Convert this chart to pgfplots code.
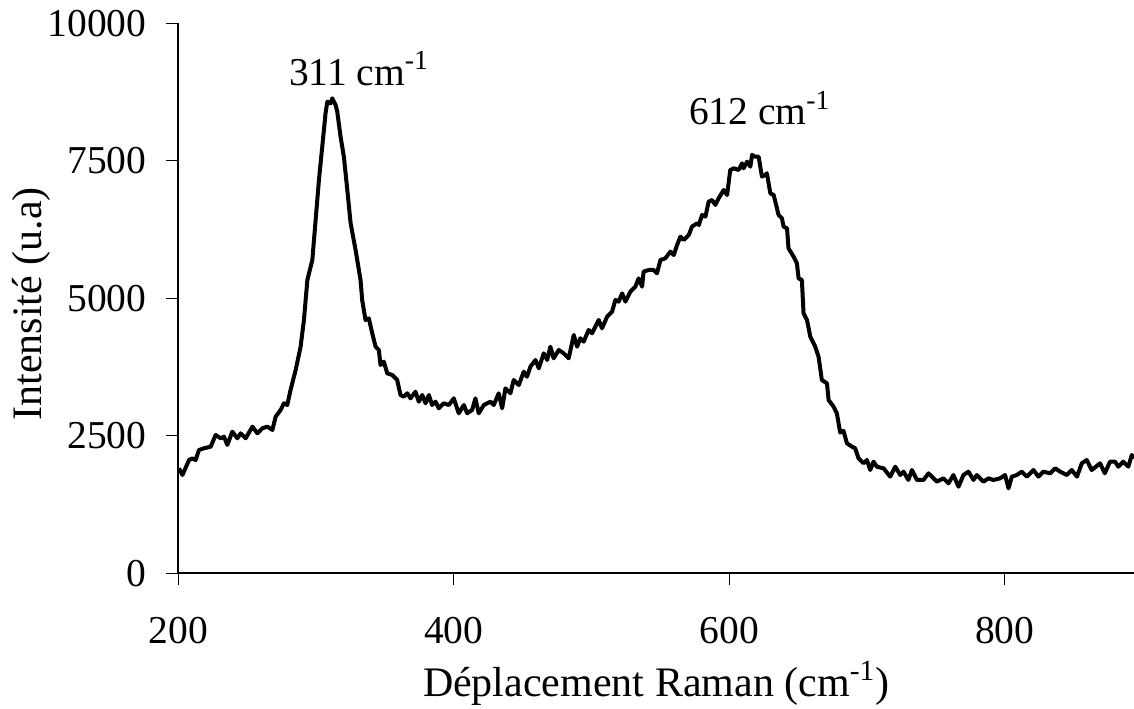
\documentclass[border=0pt]{standalone}
\usepackage{pgfplots}
\pgfplotsset{compat=1.18}
\usepackage{fontspec}
\setmainfont{Liberation Serif}
\newcommand{\tickfont}{\fontsize{19.75}{22}\selectfont}
\newcommand{\labfont}{\fontsize{21}{24}\selectfont}
\pgfplotstableread{
x y
200.5 1909
203.0 1787
207.8 2060
210.2 2090
212.6 2060
215.0 2242
218.6 2273
223.5 2302
227.1 2515
230.8 2455
233.2 2485
235.6 2333
239.2 2575
242.9 2455
245.3 2545
248.9 2455
253.8 2666
257.4 2545
261.0 2636
264.6 2666
268.3 2606
270.7 2848
274.3 2970
276.7 3091
279.1 3060
281.5 3333
285.2 3697
288.8 4120
291.2 4606
293.7 5333
297.3 5697
299.7 6424
302.1 7151
304.5 7756
306.9 8364
308.2 8575
310.6 8545
311.8 8636
314.2 8515
315.4 8393
317.8 7938
320.2 7575
322.7 6969
325.1 6364
328.7 5878
332.3 5333
333.5 4969
335.9 4606
338.3 4636
340.8 4364
343.2 4120
345.6 4060
346.8 3787
349.2 3848
351.7 3636
355.3 3606
358.9 3515
361.3 3242
363.7 3212
366.2 3273
368.6 3181
372.2 3302
374.6 3120
377.1 3242
379.5 3091
381.9 3242
384.3 3060
386.7 3121
389.1 3000
392.7 3091
396.4 3060
400.0 3181
403.6 2909
407.3 3060
409.7 2909
413.3 2970
415.7 3181
418.1 2909
421.8 3060
426.6 3121
429.0 3060
432.6 3273
435.1 3000
437.5 3363
441.1 3273
443.5 3515
447.2 3424
450.8 3666
453.2 3575
455.6 3757
459.3 3878
461.7 3727
465.3 4000
467.8 3878
470.1 4120
472.5 3909
476.2 4060
479.8 4000
483.4 3909
487.1 4333
489.5 4120
491.9 4273
494.3 4212
497.9 4424
500.4 4364
502.8 4485
505.2 4606
507.6 4454
511.3 4666
514.9 4757
517.3 4969
519.7 4939
522.2 5090
524.6 4939
528.2 5121
531.8 5212
534.2 5363
536.7 5212
537.8 5485
541.5 5515
545.1 5515
547.5 5454
550.0 5697
553.6 5727
557.2 5848
559.7 5787
562.1 5969
564.5 6121
567.0 6060
570.6 6151
572.9 6303
576.7 6364
577.9 6333
580.2 6515
582.7 6485
585.0 6757
587.5 6787
589.9 6697
592.3 6818
595.9 6969
598.4 6878
600.7 7333
603.2 7363
606.8 7333
609.2 7454
610.4 7363
612.9 7484
615.3 7393
616.5 7606
618.9 7575
621.3 7575
623.7 7212
626.1 7242
627.3 7272
629.8 6909
632.2 6878
635.8 6515
638.2 6454
639.4 6303
641.9 6273
643.0 5909
646.7 5757
649.1 5636
650.3 5363
652.7 5333
653.9 4727
656.4 4606
658.8 4303
662.4 4120
664.8 3939
667.2 3515
670.9 3454
672.1 3151
675.7 3030
678.1 2909
680.5 2560
682.9 2590
685.4 2364
689.0 2303
691.4 2273
693.8 2091
697.4 2000
699.9 2060
702.3 1878
704.7 2030
707.1 1939
712.0 1909
716.8 1757
720.5 1939
724.1 1787
726.5 1848
730.0 1697
732.6 1878
736.2 1697
741.0 1697
744.6 1818
750.7 1666
755.5 1727
759.1 1636
762.7 1787
766.4 1575
770.0 1787
773.6 1848
777.3 1697
779.7 1787
784.5 1666
788.1 1727
791.8 1697
796.6 1727
800.2 1787
802.7 1545
805.1 1757
808.7 1787
812.3 1848
816.0 1757
820.8 1878
824.4 1757
828.0 1848
832.9 1818
836.6 1909
840.2 1848
845.0 1787
848.6 1878
852.4 1757
855.9 2000
859.5 2060
863.1 1878
869.2 2000
872.6 1818
876.4 2030
880.0 2030
882.4 1939
886.0 2030
889.7 1939
892.2 2151
893.8 2091
}\spectrum
\begin{document}
\begin{tikzpicture}
\begin{axis}[
  name=ax, at={(0,0)}, anchor=south west,
  scale only axis, width=477.85pt, height=275pt,
  xmin=200, xmax=893.8, ymin=0, ymax=10000,
  axis x line=bottom, axis y line=left,
  axis line style={-, black, line width=0.9pt},
  xtick={200,400,600,800}, ytick={0,2500,5000,7500,10000},
  tick align=outside, major tick length=6pt,
  tick style={black, line width=0.6pt},
  /pgf/number format/assume math mode=true,
  scaled ticks=false,
  yticklabel style={/pgf/number format/1000 sep={}},
  xticklabel style={/pgf/number format/1000 sep={}},
  tick label style={font=\tickfont, inner sep=0pt},
  yticklabel style={anchor=east},
  yticklabel shift=9.8pt,
  xticklabel style={anchor=north},
  xticklabel shift=16pt,
  every axis x label/.style={at={(axis description cs:0.5,0)}, yshift=-61.35pt, anchor=base, font=\labfont, inner sep=0pt},
  every axis y label/.style={at={(axis description cs:0,0.49)}, xshift=-68.3pt, rotate=90, anchor=base, font=\labfont, inner sep=0pt},
  xlabel={Déplacement Raman (cm\textsuperscript{-1})},
  ylabel={Intensité (u.a)},
  clip=false,
]
\addplot[black, line width=2pt, line join=round] table[x=x,y=y] {\spectrum};
\node[anchor=base west, inner sep=0pt, font=\tickfont] at (axis cs:280.1,8878) {311 cm\textsuperscript{-1}};
\node[anchor=base west, inner sep=0pt, font=\tickfont] at (axis cs:570.5,8151) {612 cm\textsuperscript{-1}};
\end{axis}
\pgfresetboundingbox
\path[use as bounding box] (-89.15pt,-67.35pt) rectangle (477.85pt,286.65pt);
\end{tikzpicture}
\end{document}
